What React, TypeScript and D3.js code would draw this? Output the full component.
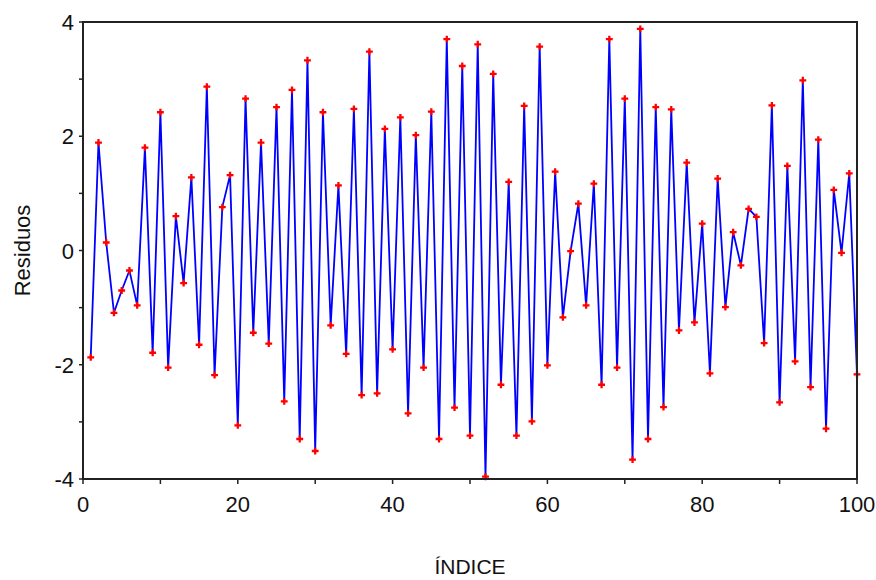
import React from "react";
import * as d3 from "d3";

const indices: number[] = Array.from({ length: 100 }, (_, i) => i + 1);
const residuos: number[] = [
  -1.87, 1.89, 0.14, -1.09, -0.7, -0.35, -0.96, 1.8, -1.79, 2.42,
  -2.05, 0.6, -0.57, 1.28, -1.65, 2.87, -2.18, 0.76, 1.32, -3.06,
  2.66, -1.44, 1.89, -1.63, 2.51, -2.64, 2.81, -3.3, 3.33, -3.51,
  2.42, -1.31, 1.14, -1.81, 2.48, -2.53, 3.48, -2.5, 2.13, -1.73,
  2.33, -2.85, 2.02, -2.05, 2.43, -3.3, 3.7, -2.75, 3.23, -3.24,
  3.61, -3.96, 3.09, -2.35, 1.2, -3.24, 2.53, -2.99, 3.57, -2.01,
  1.38, -1.17, -0.01, 0.82, -0.96, 1.17, -2.35, 3.7, -2.05, 2.66,
  -3.66, 3.88, -3.3, 2.51, -2.74, 2.47, -1.4, 1.54, -1.26, 0.47,
  -2.15, 1.26, -0.99, 0.32, -0.26, 0.73, 0.59, -1.62, 2.54, -2.66,
  1.48, -1.94, 2.98, -2.39, 1.94, -3.12, 1.06, -0.04, 1.35, -2.17,
];
const xMajorTicks: number[] = [0, 20, 40, 60, 80, 100];
const xMinorTicks: number[] = [10, 30, 50, 70, 90];
const yMajorTicks: number[] = [-4, -2, 0, 2, 4];
const yMinorTicks: number[] = [-3, -1, 1, 3];
const xTitle = "ÍNDICE";
const yTitle = "Residuos";

export default function App() {
  const W = 876;
  const H = 580;
  const left = 83;
  const right = 857;
  const top = 22;
  const bottom = 479;
  const x = d3.scaleLinear().domain([0, 100]).range([left, right]);
  const y = d3.scaleLinear().domain([-4, 4]).range([bottom, top]);
  const line = d3
    .line<number>()
    .x((_, i) => x(indices[i]))
    .y((d) => y(d));
  const cross = d3.symbol().type(d3.symbolCross).size(26)() as string;
  const font = "'Liberation Sans', Arial, sans-serif";

  return (
    <svg
      width={W}
      height={H}
      style={{ position: "absolute", left: 0, top: 0, background: "#fff" }}
      fontFamily={font}
    >
      <rect x={0} y={0} width={W} height={H} fill="#fff" />
      <path
        d={line(residuos) as string}
        fill="none"
        stroke="#0000ff"
        strokeWidth={1.8}
      />
      {residuos.map((v, i) => (
        <path
          key={i}
          d={cross}
          transform={`translate(${x(indices[i])},${y(v)})`}
          fill="#ff0000"
        />
      ))}
      <rect
        x={left}
        y={top}
        width={right - left}
        height={bottom - top}
        fill="none"
        stroke="#222"
        strokeWidth={2}
      />
      {xMajorTicks.concat(xMinorTicks).map((t) => (
        <line
          key={"xt" + t}
          x1={x(t)}
          x2={x(t)}
          y1={bottom}
          y2={bottom + 5}
          stroke="#222"
          strokeWidth={1.5}
        />
      ))}
      {xMajorTicks.map((t) => (
        <text
          key={"xl" + t}
          x={x(t)}
          y={512}
          textAnchor="middle"
          fontSize={22}
          fill="#111"
        >
          {t}
        </text>
      ))}
      {yMajorTicks.concat(yMinorTicks).map((t) => (
        <line
          key={"yt" + t}
          x1={left - 4}
          x2={left}
          y1={y(t)}
          y2={y(t)}
          stroke="#222"
          strokeWidth={1.5}
        />
      ))}
      {yMajorTicks.map((t) => (
        <text
          key={"yl" + t}
          x={74}
          y={y(t) + 8}
          textAnchor="end"
          fontSize={22}
          fill="#111"
        >
          {t}
        </text>
      ))}
      <text
        transform={`translate(30,${(top + bottom) / 2}) rotate(-90)`}
        textAnchor="middle"
        fontSize={22}
        fill="#111"
      >
        {yTitle}
      </text>
      <text
        x={470}
        y={574}
        textAnchor="middle"
        fontSize={21}
        fill="#111"
      >
        {xTitle}
      </text>
    </svg>
  );
}
